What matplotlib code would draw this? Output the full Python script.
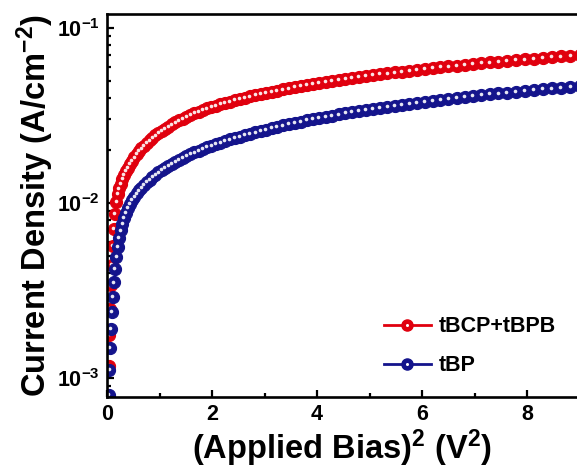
"""J vs V^2 plot for tBCP+tBPB and tBP devices."""
import math

import matplotlib
matplotlib.use("Agg")
import matplotlib.pyplot as plt
import matplotlib.transforms as mtransforms
from matplotlib.lines import Line2D
from matplotlib.legend_handler import HandlerTuple
from matplotlib.ticker import FixedLocator, LogLocator, FuncFormatter, NullFormatter

plt.rcParams["font.family"] = ["Liberation Sans", "DejaVu Sans"]
plt.rcParams["font.weight"] = "bold"
plt.rcParams["mathtext.fontset"] = "custom"
plt.rcParams["mathtext.rm"] = "Liberation Sans:bold"
plt.rcParams["mathtext.bf"] = "Liberation Sans:bold"
plt.rcParams["mathtext.it"] = "Liberation Sans:bold"

# applied bias sweep (V)
bias = [
    0.03, 0.06, 0.09, 0.12, 0.15, 0.18, 0.21, 0.24, 0.27, 0.30,
    0.33, 0.36, 0.39, 0.42, 0.45, 0.48, 0.51, 0.54, 0.57, 0.60,
    0.63, 0.66, 0.69, 0.72, 0.75, 0.78, 0.81, 0.84, 0.87, 0.90,
    0.93, 0.96, 0.99, 1.02, 1.05, 1.08, 1.11, 1.14, 1.17, 1.20,
    1.23, 1.26, 1.29, 1.32, 1.35, 1.38, 1.41, 1.44, 1.47, 1.50,
    1.53, 1.56, 1.59, 1.62, 1.65, 1.68, 1.71, 1.74, 1.77, 1.80,
    1.83, 1.86, 1.89, 1.92, 1.95, 1.98, 2.01, 2.04, 2.07, 2.10,
    2.13, 2.16, 2.19, 2.22, 2.25, 2.28, 2.31, 2.34, 2.37, 2.40,
    2.43, 2.46, 2.49, 2.52, 2.55, 2.58, 2.61, 2.64, 2.67, 2.70,
    2.73, 2.76, 2.79, 2.82, 2.85, 2.88, 2.91, 2.94, 2.97, 3.00,
]

# current density (A/cm^2)
j_tbcp_tbpb = [
    0.000011, 0.000067, 0.00019, 0.00041, 0.00073, 0.00118, 0.00176, 0.00248, 0.00338, 0.00444,
    0.00569, 0.00713, 0.00870, 0.01010, 0.01128, 0.01212, 0.01290, 0.01366, 0.01442, 0.01518,
    0.01594, 0.01670, 0.01746, 0.01822, 0.01898, 0.01973, 0.02049, 0.02125, 0.02201, 0.02277,
    0.02353, 0.02429, 0.02505, 0.02581, 0.02657, 0.02732, 0.02808, 0.02884, 0.02960, 0.03036,
    0.03111, 0.03185, 0.03257, 0.03328, 0.03397, 0.03465, 0.03532, 0.03598, 0.03664, 0.03729,
    0.03795, 0.03860, 0.03926, 0.03991, 0.04056, 0.04122, 0.04187, 0.04253, 0.04318, 0.04383,
    0.04449, 0.04514, 0.04580, 0.04645, 0.04710, 0.04776, 0.04841, 0.04907, 0.04972, 0.05037,
    0.05103, 0.05168, 0.05234, 0.05299, 0.05364, 0.05430, 0.05495, 0.05561, 0.05626, 0.05691,
    0.05757, 0.05822, 0.05888, 0.05953, 0.06018, 0.06084, 0.06149, 0.06215, 0.06280, 0.06345,
    0.06411, 0.06476, 0.06542, 0.06607, 0.06672, 0.06738, 0.06803, 0.06869, 0.06934, 0.06999,
]
j_tbp = [
    0.000017, 0.000076, 0.00018, 0.00034, 0.00054, 0.00080, 0.00111, 0.00148, 0.00190, 0.00239,
    0.00292, 0.00352, 0.00418, 0.00490, 0.00562, 0.00631, 0.00697, 0.00760, 0.00821, 0.00879,
    0.00935, 0.00988, 0.01039, 0.01088, 0.01135, 0.01180, 0.01225, 0.01270, 0.01315, 0.01360,
    0.01405, 0.01450, 0.01495, 0.01540, 0.01585, 0.01630, 0.01675, 0.01720, 0.01765, 0.01810,
    0.01855, 0.01900, 0.01945, 0.01990, 0.02035, 0.02080, 0.02125, 0.02170, 0.02215, 0.02260,
    0.02305, 0.02350, 0.02395, 0.02440, 0.02485, 0.02530, 0.02578, 0.02627, 0.02675, 0.02724,
    0.02772, 0.02820, 0.02869, 0.02917, 0.02966, 0.03014, 0.03062, 0.03111, 0.03159, 0.03208,
    0.03256, 0.03304, 0.03353, 0.03401, 0.03450, 0.03498, 0.03546, 0.03595, 0.03643, 0.03692,
    0.03740, 0.03788, 0.03837, 0.03885, 0.03934, 0.03982, 0.04030, 0.04079, 0.04127, 0.04176,
    0.04224, 0.04272, 0.04321, 0.04369, 0.04418, 0.04466, 0.04514, 0.04563, 0.04611, 0.04660,
]

labels = ["tBCP+tBPB", "tBP"]
colors = ["#E0000E", "#14148C"]
x_ticks = [0, 2, 4, 6, 8]

fig = plt.figure(figsize=(5.77, 4.75), dpi=100)
# the plot frame runs off the right edge of the picture
ax = fig.add_axes([107 / 577, 78 / 475, 470 / 577, 383 / 475])

v_sq = [v * v for v in bias]
shine = ax.transData + mtransforms.ScaledTranslation(-0.5 / 72, 0.6 / 72, fig.dpi_scale_trans)
handles = []
for j, c, lab in zip([j_tbcp_tbpb, j_tbp], colors, labels):
    ax.plot(v_sq, j, ls="none", marker="o", ms=8.7, mfc=c, mec=c, mew=0.8)
    ax.plot(v_sq, j, ls="none", marker="o", ms=2.6, mfc="white", mec="none",
            alpha=0.9, transform=shine)
    h1 = Line2D([], [], color=c, lw=2, marker="o", ms=8, mfc=c, mec=c)
    h2 = Line2D([], [], ls="none", marker="o", ms=2.2, mfc="white", mec="none")
    handles.append((h1, h2))

ax.set_yscale("log")
ax.set_xlim(0, 8.95)
ax.set_ylim(7.8e-4, 0.12)

ax.xaxis.set_major_locator(FixedLocator(x_ticks))
ax.xaxis.set_minor_locator(FixedLocator([1, 3, 5, 7]))
ax.yaxis.set_major_locator(LogLocator(base=10))
ax.yaxis.set_minor_locator(LogLocator(base=10, subs=range(2, 10)))
ax.yaxis.set_minor_formatter(NullFormatter())
ax.yaxis.set_major_formatter(FuncFormatter(
    lambda y, _: r"$\mathbf{10^{%d}}$" % round(math.log10(y))))

ax.tick_params(which="both", direction="in", width=1.6, labelsize=15.5)
ax.tick_params(which="major", length=5)
ax.tick_params(which="minor", length=3)
ax.tick_params(axis="x", pad=5)
ax.tick_params(axis="y", pad=5)
for side in ["left", "bottom", "top"]:
    ax.spines[side].set_linewidth(1.9)
ax.spines["right"].set_visible(False)

ax.set_xlabel(r"(Applied Bias)$^{\mathbf{2}}$ (V$^{\mathbf{2}}$)", fontsize=23.5,
              fontweight="bold", labelpad=2)
ax.set_ylabel(r"Current Density (A/cm$^{\mathbf{-2}}$)", fontsize=23.5,
              fontweight="bold", labelpad=1)

ax.legend(handles, labels, handler_map={tuple: HandlerTuple(ndivide=1)},
          loc="lower left", bbox_to_anchor=(375 / 577, 90 / 475),
          bbox_transform=fig.transFigure, borderaxespad=0, frameon=False,
          handlelength=2.2, labelspacing=0.85, handletextpad=0.35,
          prop={"weight": "bold", "size": 15.5})

fig.savefig("out.png", dpi=100)
